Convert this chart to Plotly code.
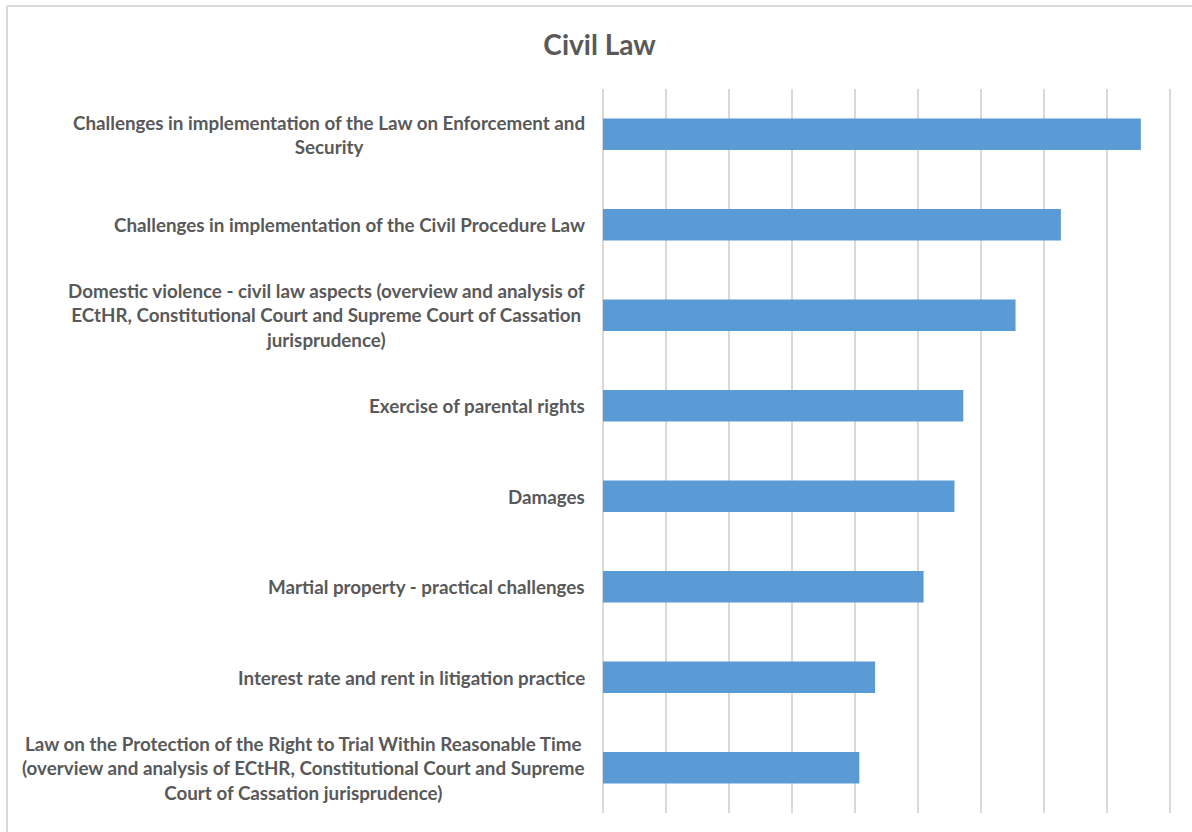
import plotly.graph_objects as go

# Topics, listed top to bottom as they appear in the chart
topics = [
    "Challenges in implementation of the Law on Enforcement and<br>Security",
    "Challenges in implementation of the Civil Procedure Law",
    "Domestic violence - civil law aspects (overview and analysis of<br>ECtHR, Constitutional Court and Supreme Court of Cassation<br>jurisprudence)",
    "Exercise of parental rights",
    "Damages",
    "Martial property - practical challenges",
    "Interest rate and rent in litigation practice",
    "Law on the Protection of the Right to Trial Within Reasonable Time<br>(overview and analysis of ECtHR, Constitutional Court and Supreme<br>Court of Cassation jurisprudence)",
]
scores = [8.54, 7.27, 6.55, 5.72, 5.58, 5.09, 4.32, 4.07]

FONT = "Lato"
GREY = "#595959"
BLUE = "#5B9BD5"
FRAME = "#D9D9D9"

# Plot-area geometry in pixels
W, H = 1192, 832
L, R, T, B = 603, 19, 89, 19
PW, PH = W - L - R, H - T - B

fig = go.Figure(
    go.Bar(
        x=scores,
        y=topics,
        orientation="h",
        marker=dict(color=BLUE, line=dict(width=0)),
        width=0.35,
        hoverinfo="x+y",
    )
)

# Category labels as centred multi-line annotations to the left of the plot
for t in topics:
    fig.add_annotation(
        x=0, xref="paper", xanchor="right", xshift=-16,
        y=t, yref="y", yanchor="middle",
        text=t, showarrow=False, align="center",
        font=dict(family=FONT, size=18.8, color=GREY, weight="bold"),
    )

fig.update_layout(
    width=W, height=H,
    margin=dict(l=L, r=R, t=T, b=B),
    paper_bgcolor="white", plot_bgcolor="white",
    title=dict(
        text="Civil Law", x=0.503, xanchor="center", y=0.946, yanchor="middle",
        font=dict(family=FONT, size=28, color=GREY, weight="bold"),
    ),
    xaxis=dict(
        range=[0, 9.05], dtick=1, showticklabels=False, showgrid=True,
        gridcolor=FRAME, gridwidth=2, zeroline=True,
        zerolinecolor=FRAME, zerolinewidth=2, showline=False, ticks="",
    ),
    yaxis=dict(
        autorange="reversed", showticklabels=False, showgrid=False,
        zeroline=False, showline=False, ticks="",
    ),
    showlegend=False,
    bargap=0.65,
)

# Light frame along the top and left edges of the chart area
frame_left = (7 - L) / PW
frame_top = (H - B - 6) / PH
fig.add_shape(type="line", xref="paper", yref="paper",
              x0=frame_left, x1=(W - L) / PW, y0=frame_top, y1=frame_top,
              line=dict(color=FRAME, width=2))
fig.add_shape(type="line", xref="paper", yref="paper",
              x0=frame_left, x1=frame_left, y0=-B / PH, y1=frame_top,
              line=dict(color=FRAME, width=2))

fig.write_html("out.html")
